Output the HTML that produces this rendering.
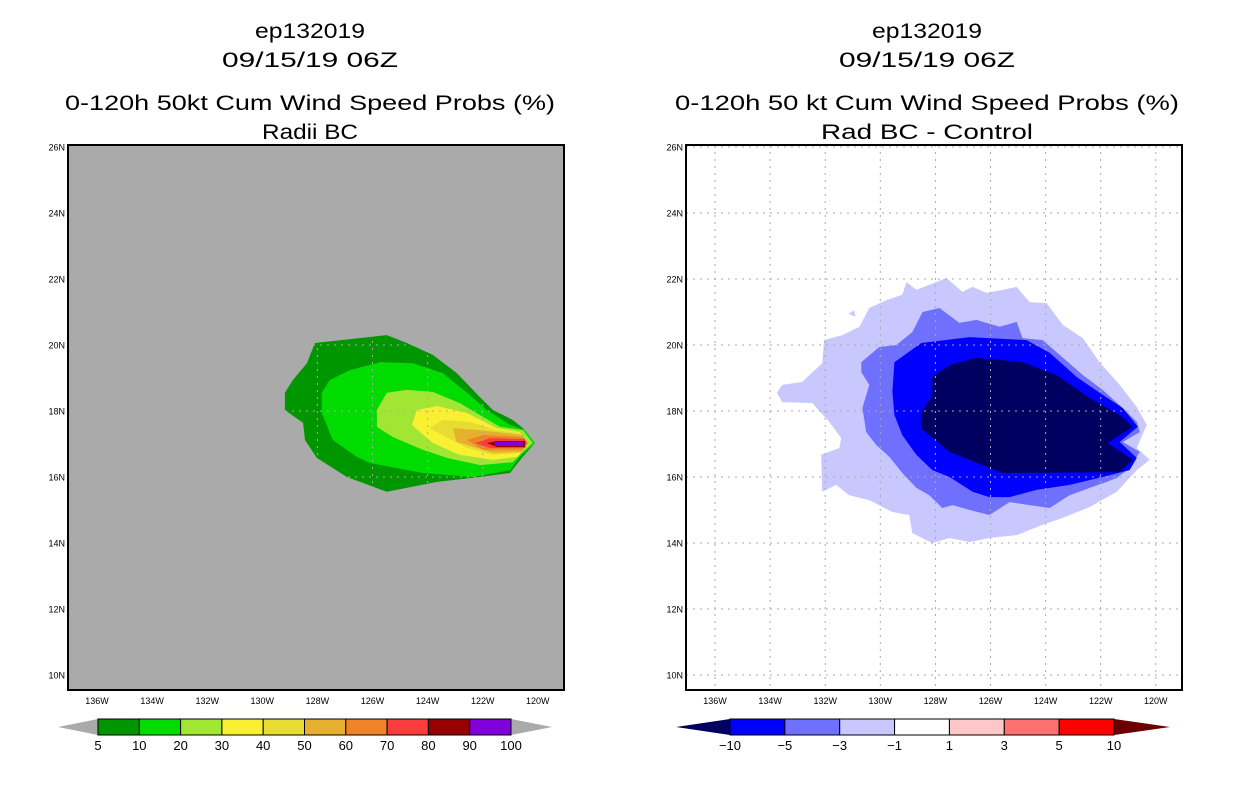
<!DOCTYPE html>
<html><head><meta charset="utf-8"><style>
html,body{margin:0;padding:0;background:#fff}
svg{display:block}
text{font-family:"Liberation Sans",sans-serif;fill:#000}
</style></head><body>
<svg id="chart" width="1236" height="800" viewBox="0 0 1236 800" xmlns="http://www.w3.org/2000/svg">
<g id="titles">
<text x="310" y="38" font-size="21" text-anchor="middle" textLength="110" lengthAdjust="spacingAndGlyphs">ep132019</text>
<text x="310" y="67" font-size="21" text-anchor="middle" textLength="176" lengthAdjust="spacingAndGlyphs">09/15/19 06Z</text>
<text x="310" y="110" font-size="21" text-anchor="middle" textLength="490" lengthAdjust="spacingAndGlyphs">0-120h 50kt Cum Wind Speed Probs (%)</text>
<text x="310" y="139" font-size="21" text-anchor="middle" textLength="96" lengthAdjust="spacingAndGlyphs">Radii BC</text>
<text x="927" y="38" font-size="21" text-anchor="middle" textLength="110" lengthAdjust="spacingAndGlyphs">ep132019</text>
<text x="927" y="67" font-size="21" text-anchor="middle" textLength="176" lengthAdjust="spacingAndGlyphs">09/15/19 06Z</text>
<text x="927" y="110" font-size="21" text-anchor="middle" textLength="504" lengthAdjust="spacingAndGlyphs">0-120h 50 kt Cum Wind Speed Probs (%)</text>
<text x="927" y="139" font-size="21" text-anchor="middle" textLength="212" lengthAdjust="spacingAndGlyphs">Rad BC - Control</text>
</g>
</svg>
<script>
// ---- data ----
const latTicks = [26,24,22,20,18,16,14,12,10];
const lonTicks = [136,134,132,130,128,126,124,122,120];
const leftLevels = ['5','10','20','30','40','50','60','70','80','90','100'];
const leftColors = ['#009600','#00dc00','#a0e632','#faf032','#e6dc32','#e6af2d','#f08228','#fa3c3c','#960000','#8200dc'];
const rightLevels = ['−10','−5','−3','−1','1','3','5','10'];
const rightColors = ['#0000ff','#7070ff','#c8c8ff','#ffffff','#ffc8c8','#ff7070','#ff0000'];
// left contours [lonW, lat]
const prob5 = [[128.09,20.06],[125.48,20.30],[124.75,20.06],[123.81,19.70],[122.94,19.15],[122.10,18.42],[121.63,18.03],[120.91,17.73],[120.54,17.48],[120.11,17.03],[120.58,16.58],[121.01,16.12],[122.10,16.00],[123.66,15.85],[125.48,15.55],[126.93,16.00],[128.02,16.58],[128.45,17.12],[128.52,17.64],[129.18,18.03],[129.18,18.55],[128.89,18.94],[128.38,19.45]];
const prob10 = [[127.84,18.55],[127.55,18.94],[126.82,19.24],[125.73,19.48],[124.53,19.45],[123.45,19.15],[122.57,18.55],[121.85,18.03],[121.01,17.58],[120.47,17.42],[120.11,17.03],[120.65,16.61],[121.01,16.21],[122.36,16.00],[124.17,16.12],[126.09,16.42],[126.57,16.61],[127.44,17.12],[127.84,17.94]];
const prob20 = [[125.84,18.03],[125.48,18.55],[124.75,18.64],[123.81,18.58],[122.83,18.24],[121.99,17.82],[121.38,17.52],[120.54,17.42],[120.18,17.03],[120.65,16.67],[120.91,16.45],[122.10,16.36],[123.30,16.58],[124.17,16.82],[125.26,17.21],[125.84,17.52]];
const prob30 = [[124.57,17.58],[124.39,18.03],[123.66,18.15],[122.57,17.94],[121.49,17.48],[120.65,17.36],[120.40,17.03],[120.72,16.61],[121.63,16.52],[122.83,16.67],[123.81,17.03]];
const prob40 = [[123.92,17.48],[123.45,17.73],[122.47,17.67],[121.49,17.42],[120.65,17.33],[120.40,17.03],[120.65,16.73],[121.63,16.67],[122.57,16.88]];
const prob50 = [[123.08,17.48],[122.10,17.42],[120.54,17.27],[120.36,17.03],[120.58,16.76],[121.63,16.73],[122.94,17.06]];
const prob60 = [[122.57,17.12],[121.99,17.27],[120.54,17.21],[120.36,17.03],[120.58,16.82],[121.99,16.82]];
const prob70 = [[122.28,17.03],[121.74,17.18],[120.47,17.15],[120.40,17.03],[120.47,16.88],[121.74,16.88]];
const prob80 = [[121.85,17.03],[121.49,17.09],[120.47,17.09],[120.47,16.91],[121.49,16.91]];
const prob90 = [[121.56,17.06],[120.54,17.06],[120.54,16.94],[121.56,16.94]];
// right contours
const diffM1 = [[133.75,18.55],[133.56,18.79],[132.84,18.88],[132.11,19.45],[132.04,20.15],[131.38,20.30],[130.76,20.55],[130.40,21.12],[129.78,21.36],[129.20,21.52],[129.05,21.91],[128.69,21.67],[127.60,22.03],[127.02,21.61],[126.65,21.76],[126.15,21.58],[125.56,21.67],[125.05,21.76],[124.58,21.30],[123.96,21.27],[123.38,20.61],[122.65,20.21],[122.04,19.48],[121.31,18.79],[120.69,18.12],[120.33,17.58],[120.69,16.88],[120.22,16.52],[120.69,16.21],[121.42,15.55],[122.40,15.09],[123.38,14.76],[124.11,14.55],[125.05,14.24],[126.04,14.15],[126.76,14.03],[127.49,14.15],[128.11,14.00],[128.84,14.30],[128.95,14.85],[129.56,14.94],[130.40,15.30],[131.13,15.45],[131.60,15.76],[132.11,15.55],[132.15,16.67],[131.49,16.88],[131.42,17.18],[131.85,17.67],[132.47,18.24],[133.56,18.27]];
const diffM1b = [[131.15,20.95],[130.95,21.05],[130.90,20.85]];
const diffM3 = [[130.69,19.48],[130.04,19.94],[129.42,20.00],[128.84,20.39],[128.47,21.00],[127.85,21.12],[127.13,20.67],[126.51,20.76],[125.67,20.55],[125.05,20.70],[124.84,20.21],[124.11,20.15],[123.49,19.70],[122.65,19.09],[121.93,18.64],[121.20,18.09],[120.69,17.67],[120.58,17.36],[121.20,17.06],[120.58,16.76],[120.95,16.27],[121.42,15.97],[121.78,15.85],[122.40,15.67],[123.13,15.45],[123.85,15.06],[124.58,15.15],[125.31,15.24],[126.04,14.85],[126.76,15.00],[127.38,15.15],[127.75,15.06],[128.22,15.45],[128.69,15.67],[129.20,16.12],[129.67,16.61],[130.15,16.97],[130.51,17.36],[130.65,18.09],[130.40,18.79],[130.69,19.18]];
const diffM5 = [[129.49,19.48],[128.51,20.06],[126.76,20.24],[124.69,20.15],[123.85,19.76],[122.87,19.03],[122.04,18.55],[121.20,18.09],[120.65,17.52],[121.31,17.06],[120.69,16.58],[120.95,16.21],[121.93,16.00],[123.13,15.76],[124.33,15.61],[125.31,15.39],[126.04,15.39],[126.65,15.55],[127.49,16.00],[128.11,16.21],[128.69,16.67],[129.20,17.27],[129.49,17.88],[129.56,18.58]];
const diffM10 = [[128.11,19.03],[127.49,19.39],[126.51,19.61],[124.84,19.48],[123.60,19.09],[122.40,18.39],[121.31,17.88],[120.84,17.52],[121.75,17.03],[120.84,16.52],[121.31,16.15],[125.56,16.12],[127.49,16.76],[128.51,17.48],[128.51,17.94],[128.11,18.48]];

const NS='http://www.w3.org/2000/svg';
const svg=document.getElementById('chart');
function mk(tag,attrs,parent){const e=document.createElementNS(NS,tag);for(const k in attrs)e.setAttribute(k,attrs[k]);(parent||svg).appendChild(e);return e;}

function panel(x0,name){
  const P={x0:x0,x1:x0+496,y0:145,y1:690};
  P.xs=function(lonW){return x0+29+(136-lonW)*27.55;};
  P.ys=function(lat){return 147+(26-lat)*33;};
  return P;
}
const L=panel(68,'left'), R=panel(686,'right');

function poly(P,pts,color,name,parent){
  const d=pts.map(p=>P.xs(p[0]).toFixed(1)+','+P.ys(p[1]).toFixed(1)).join(' ');
  const e=mk('polygon',{points:d,fill:color},parent);
  
  
}

function axes(P,side,gridOnTop){
  const g=mk('g',{});
  
  
  // grid
  lonTicks.forEach(l=>{const x=P.xs(l);const ln=mk('line',{x1:x,x2:x,y1:P.y0,y2:P.y1,stroke:'#aaaaaa','stroke-width':1,'stroke-dasharray':'2,5'},g);
    });
  latTicks.forEach(l=>{const y=P.ys(l);const ln=mk('line',{x1:P.x0,x2:P.x1,y1:y,y2:y,stroke:'#aaaaaa','stroke-width':1,'stroke-dasharray':'2,5'},g);
    });
  const fr=mk('rect',{x:P.x0,y:P.y0,width:P.x1-P.x0,height:P.y1-P.y0,fill:'none',stroke:'#000','stroke-width':2},g);
  
  latTicks.forEach(l=>{const t=mk('text',{x:P.x0-3,y:P.ys(l)+3.5,'font-size':9,'text-anchor':'end'},g);t.textContent=l+'N';
    });
  lonTicks.forEach(l=>{const t=mk('text',{x:P.xs(l),y:P.y1+14,'font-size':9,'text-anchor':'middle'},g);t.textContent=l+'W';
    });
}

// left panel
const bgL=mk('rect',{x:L.x0,y:L.y0,width:496,height:545,fill:'#aaaaaa'});


const lg=mk('g',{});


[prob5,prob10,prob20,prob30,prob40,prob50,prob60,prob70,prob80,prob90].forEach((p,i)=>poly(L,p,leftColors[i],'contour-'+leftLevels[i]+'pct',lg));
axes(L,'left');

// right panel
const rg=mk('g',{});


poly(R,diffM1,'#c8c8ff','contour-minus1',rg);
poly(R,diffM1b,'#c8c8ff','contour-minus1-island',rg);
poly(R,diffM3,'#7070ff','contour-minus3',rg);
poly(R,diffM5,'#0000ff','contour-minus5',rg);
poly(R,diffM10,'#000060','contour-minus10',rg);
axes(R,'right');

// colorbars
function colorbar(x0,x1,tipL,tipR,colors,levels,tipLC,tipRC,side){
  const g=mk('g',{});
  
  
  const y0=719,y1=735,ym=727;
  const a=mk('polygon',{points:`${tipL},${ym} ${x0},${y0} ${x0},${y1}`,fill:tipLC},g);
  
  const b=mk('polygon',{points:`${tipR},${ym} ${x1},${y0} ${x1},${y1}`,fill:tipRC},g);
  
  const w=(x1-x0)/colors.length;
  colors.forEach((c,i)=>{const r=mk('rect',{x:x0+i*w,y:y0,width:w,height:y1-y0,fill:c,stroke:'#000','stroke-width':1},g);
    });
  levels.forEach((l,i)=>{const t=mk('text',{x:x0+i*w,y:750,'font-size':13,'text-anchor':'middle'},g);t.textContent=l;
    });
}
colorbar(98,511,58,552,leftColors,leftLevels,'#aaaaaa','#aaaaaa','left');
colorbar(730,1114,676,1170,rightColors,rightLevels,'#000060','#6a0000','right');
</script>
</body></html>
